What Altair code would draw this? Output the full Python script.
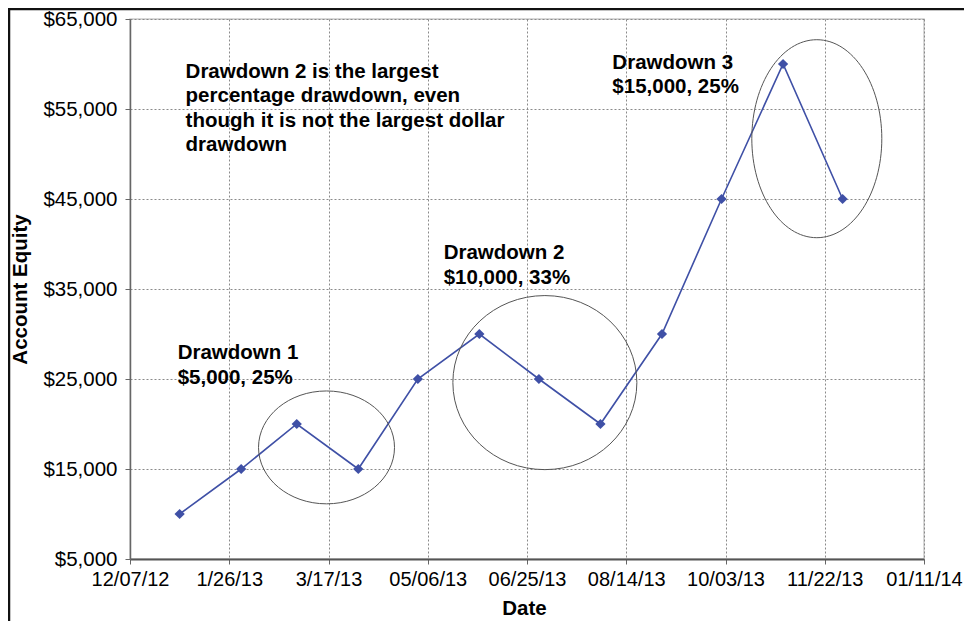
import altair as alt
import pandas as pd

# ---- data ----
dates = ["2013-01-01", "2013-02-01", "2013-03-01", "2013-04-01", "2013-05-01", "2013-06-01",
         "2013-07-01", "2013-08-01", "2013-09-01", "2013-10-01", "2013-11-01", "2013-12-01"]
equity = [10000, 15000, 20000, 15000, 25000, 30000, 25000, 20000, 30000, 45000, 60000, 45000]

x_tick_dates = ["2012-12-07", "2013-01-26", "2013-03-17", "2013-05-06", "2013-06-25",
                "2013-08-14", "2013-10-03", "2013-11-22", "2014-01-11"]
x_tick_labels = ["12/07/12", "1/26/13", "3/17/13", "05/06/13", "06/25/13",
                 "08/14/13", "10/03/13", "11/22/13", "01/11/14"]
y_ticks = [5000, 15000, 25000, 35000, 45000, 55000, 65000]

# annotation texts (anchored in data coordinates)
note_dates = ["2013-01-04", "2012-12-31", "2013-05-14", "2013-08-07"]
note_values = [58500, 27200, 38300, 59500]
note_texts = [
    "Drawdown 2 is the largest\npercentage drawdown, even\nthough it is not the largest dollar\ndrawdown",
    "Drawdown 1\n$5,000, 25%",
    "Drawdown 2\n$10,000, 33%",
    "Drawdown 3\n$15,000, 25%",
]

# ellipses highlighting the drawdowns (center in data coords)
ellipse_dates = ["2013-03-16", "2013-07-04", "2013-11-18"]
ellipse_values = [17400, 24600, 51700]
ellipse_rx_px = [68, 92, 65]
ellipse_aspect = [0.83, 0.946, 1.523]

# ---- styles ----
FONT = "Liberation Sans"
LINE_COLOR = "#3f50a6"
PLOT_W, PLOT_H = 794, 540


def ms(d):
    return int(pd.Timestamp(d, tz="UTC").value // 10**6)


def ellipse_path(b):
    k = 0.5523
    return (f"M 1 0 C 1 {k*b:.4f} {k:.4f} {b:.4f} 0 {b:.4f} "
            f"C {-k:.4f} {b:.4f} -1 {k*b:.4f} -1 0 "
            f"C -1 {-k*b:.4f} {-k:.4f} {-b:.4f} 0 {-b:.4f} "
            f"C {k:.4f} {-b:.4f} 1 {-k*b:.4f} 1 0 Z")


label_expr = ""
for d, lab in zip(x_tick_dates, x_tick_labels):
    label_expr += f"utcFormat(datum.value, '%Y-%m-%d') == '{d}' ? '{lab}' : "
label_expr += "''"

df = pd.DataFrame({"date": dates, "equity": equity})

x_scale = alt.Scale(type="utc", domain=[ms(x_tick_dates[0]), ms(x_tick_dates[-1])], nice=False)
y_scale = alt.Scale(domain=[y_ticks[0], y_ticks[-1]], nice=False, zero=False)

x_axis = alt.Axis(
    values=[ms(d) for d in x_tick_dates], labelExpr=label_expr, title="Date",
    labelFontSize=20, labelFont=FONT, labelColor="black", labelPadding=5,
    tickSize=5, tickColor="#666", domainColor="#555", domainWidth=2,
    grid=True, gridColor="#8a8a8a", gridDash=[2, 2], gridWidth=1,
    labelOverlap=False, labelFlush=False,
    titleFont=FONT, titleFontSize=20.5, titleFontWeight="bold", titleColor="black",
    titleX=394, titleY=55, titleBaseline="alphabetic", titleAnchor="middle", titleAlign="center",
)
y_axis = alt.Axis(
    values=y_ticks, format="$,.0f", title="Account Equity",
    labelFontSize=20.5, labelFont=FONT, labelColor="black", labelPadding=8,
    tickSize=5, tickColor="#666", domainColor="#666", domainWidth=1.5,
    grid=True, gridColor="#8a8a8a", gridDash=[2, 2], gridWidth=1,
    labelOverlap=False, labelFlush=False,
    titleFont=FONT, titleFontSize=20.5, titleFontWeight="bold", titleColor="black",
    titleX=-104, titleY=270, titleAngle=270, titleBaseline="alphabetic", titleAlign="center",
)

base = alt.Chart(df)
line = base.mark_line(color=LINE_COLOR, strokeWidth=1.6).encode(
    x=alt.X("date:T", scale=x_scale, axis=x_axis),
    y=alt.Y("equity:Q", scale=y_scale, axis=y_axis),
)
points = base.mark_point(shape="diamond", filled=True, size=105, color=LINE_COLOR, opacity=1).encode(
    x=alt.X("date:T", scale=x_scale),
    y=alt.Y("equity:Q", scale=y_scale),
)

layers = [line, points]

for d, v, rx, a in zip(ellipse_dates, ellipse_values, ellipse_rx_px, ellipse_aspect):
    edf = pd.DataFrame({"date": [d], "equity": [v]})
    layers.append(
        alt.Chart(edf).mark_point(
            shape=ellipse_path(a), size=(2 * rx) ** 2, filled=False,
            stroke="#555", strokeWidth=1, opacity=1,
        ).encode(x=alt.X("date:T", scale=x_scale), y=alt.Y("equity:Q", scale=y_scale))
    )

ndf = pd.DataFrame({"date": note_dates, "equity": note_values, "label": note_texts})
texts = alt.Chart(ndf).mark_text(
    align="left", baseline="alphabetic", font=FONT, fontSize=20.5, fontWeight="bold",
    color="black", lineBreak="\n", lineHeight=24.6,
).encode(
    x=alt.X("date:T", scale=x_scale),
    y=alt.Y("equity:Q", scale=y_scale),
    text="label:N",
)
layers.append(texts)

# scan frame of the original figure (top and left edges)
fdf = pd.DataFrame({"k": [0]})
frame_top = alt.Chart(fdf).mark_rule(color="#111", strokeWidth=2.5).encode(
    x=alt.value(-122), x2=alt.value(PLOT_W + 40), y=alt.value(-10))
frame_left = alt.Chart(fdf).mark_rule(color="#111", strokeWidth=2.5).encode(
    x=alt.value(-121), y=alt.value(-11), y2=alt.value(PLOT_H + 62))
layers += [frame_top, frame_left]

chart = alt.layer(*layers).properties(
    width=PLOT_W, height=PLOT_H,
    autosize=alt.AutoSizeParams(type="none"),
    padding={"left": 122, "top": 11, "right": 40, "bottom": 62},
    background="white",
).configure_view(stroke="#cccccc", strokeWidth=1.5)

chart.save("out.html", embed_options={"renderer": "svg", "actions": False})
